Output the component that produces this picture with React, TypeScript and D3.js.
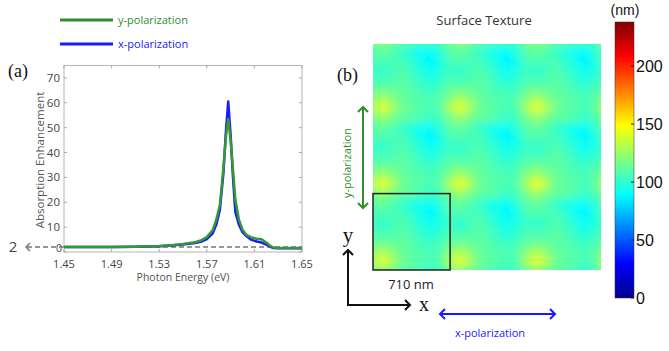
import * as d3 from "d3";

// panel (a): absorption enhancement spectra
const energy = [1.45, 1.47, 1.49, 1.51, 1.53, 1.54, 1.55, 1.56, 1.565, 1.57, 1.575, 1.578, 1.581, 1.584, 1.586, 1.588, 1.59, 1.592, 1.594, 1.597, 1.6, 1.603, 1.607, 1.612, 1.616, 1.62, 1.623, 1.626, 1.63, 1.64, 1.65];
const xPolarization = [2.0, 2.0, 2.0, 2.1, 2.3, 2.6, 3.0, 3.6, 4.1, 5.2, 7.5, 11, 17, 32, 48, 60.5, 47, 30, 16, 11, 8, 6.5, 5, 4.2, 3.8, 3.0, 2.2, 1.6, 1.5, 1.5, 1.5];
const yPolarization = [2.0, 2.0, 2.0, 2.1, 2.4, 2.7, 3.2, 3.9, 4.6, 6.0, 8.8, 13, 19, 34, 46, 53.5, 45, 33, 21, 13, 9, 7, 6, 5.3, 5.1, 3.8, 2.6, 1.8, 1.6, 1.6, 1.6];
const energyTicks = [1.45, 1.49, 1.53, 1.57, 1.61, 1.65];
const enhancementTicks = [0, 10, 20, 30, 40, 50, 60, 70];
const baselineLevel = 2;

// panel (b): one period of the surface height (nm), rows top -> bottom
const textureCell = [
  [110, 112, 108, 101, 95, 91, 91, 99],
  [108, 108, 107, 105, 99, 92, 87, 95],
  [103, 100, 104, 108, 103, 96, 91, 96],
  [106, 104, 107, 110, 106, 100, 96, 100],
  [112, 113, 112, 111, 109, 104, 102, 105],
  [120, 128, 120, 113, 110, 108, 106, 109],
  [130, 145, 130, 115, 111, 109, 105, 110],
  [117, 124, 117, 112, 110, 107, 102, 106],
];
const cellPeriodNm = 710;
const textureSpanNm = 2100;
const heightTicks = [0, 50, 100, 150, 200];
const heightMax = 238;

const jetStops = [0, 0.125, 0.375, 0.625, 0.875, 1];
const jetColors = ["#00008f", "#0000ff", "#00ffff", "#ffff00", "#ff0000", "#800000"];

const GREEN = "#2f8f2f";
const BLUE = "#1a1aff";
const SANS = "'Open Sans', sans-serif";

export default function App() {
  const width = 669;
  const height = 351;

  // spectrum scales
  const x = d3.scaleLinear().domain([1.45, 1.65]).range([64, 302]);
  const y = d3.scaleLinear().domain([0, 75]).range([252, 65.5]);
  const line = d3
    .line<number>()
    .x((_, i) => x(energy[i]))
    .y((d) => y(d));

  // texture scales
  const hx = d3.scaleLinear().domain([0, textureSpanNm]).range([373, 601]);
  const hy = d3.scaleLinear().domain([0, textureSpanNm]).range([270, 44]);
  const color = d3
    .scaleLinear<string>()
    .domain(jetStops.map((s) => s * heightMax))
    .range(jetColors)
    .interpolate(d3.interpolateRgb);
  const cb = d3.scaleLinear().domain([0, heightMax]).range([298, 22]);

  const nCell = textureCell.length;
  const cellNm = cellPeriodNm / nCell;
  const tiles = d3.range(-1, 4);
  const cells: { x: number; y: number; w: number; h: number; c: string }[] = [];
  tiles.forEach((ty) =>
    tiles.forEach((tx) =>
      textureCell.forEach((row, r) =>
        row.forEach((v, i) => {
          const j = nCell - 1 - r;
          const nx = tx * cellPeriodNm + i * cellNm - cellNm / 2;
          const ny = ty * cellPeriodNm + j * cellNm - cellNm / 2;
          cells.push({
            x: hx(nx),
            y: hy(ny + cellNm),
            w: hx(nx + cellNm) - hx(nx) + 0.6,
            h: hy(ny) - hy(ny + cellNm) + 0.6,
            c: color(v),
          });
        })
      )
    )
  );

  const chevron = (tx: number, ty: number, dir: "up" | "down" | "left" | "right", s = 5) => {
    if (dir === "up") return `M${tx - s},${ty + s}L${tx},${ty}L${tx + s},${ty + s}`;
    if (dir === "down") return `M${tx - s},${ty - s}L${tx},${ty}L${tx + s},${ty - s}`;
    if (dir === "left") return `M${tx + s},${ty - s}L${tx},${ty}L${tx + s},${ty + s}`;
    return `M${tx - s},${ty - s}L${tx},${ty}L${tx - s},${ty + s}`;
  };

  const [x0, x1] = x.range();
  const [y0, y1] = y.range();

  return (
    <svg width={width} height={height} style={{ display: "block", position: "absolute", left: 0, top: 0 }}>
      <defs>
        <clipPath id="texClip">
          <rect x={hx(0)} y={hy(textureSpanNm)} width={hx(textureSpanNm) - hx(0)} height={hy(0) - hy(textureSpanNm)} />
        </clipPath>
        <filter id="soft" x="-5%" y="-5%" width="110%" height="110%">
          <feGaussianBlur stdDeviation="4.5" />
        </filter>
        <linearGradient id="jet" x1="0" y1="1" x2="0" y2="0">
          {jetStops.map((s, i) => (
            <stop key={i} offset={s} stopColor={jetColors[i]} />
          ))}
        </linearGradient>
      </defs>
      <rect width={width} height={height} fill="#fff" />

      {/* ---------- panel (a) ---------- */}
      <line x1={60} x2={113} y1={20} y2={20} stroke={GREEN} strokeWidth={3} />
      <text x={118} y={24} fontFamily={SANS} fontSize={11} fill={GREEN}>y-polarization</text>
      <line x1={60} x2={113} y1={44} y2={44} stroke={BLUE} strokeWidth={3} />
      <text x={118} y={48} fontFamily={SANS} fontSize={11} fill={BLUE}>x-polarization</text>
      <text x={8} y={77} fontFamily="'Liberation Serif', serif" fontSize={18} fill="#111">(a)</text>

      <rect x={x0} y={y1} width={x1 - x0} height={y0 - y1} fill="none" stroke="#b5b5b5" />
      {energyTicks.map((t) => (
        <g key={t}>
          <line x1={x(t)} x2={x(t)} y1={y1} y2={y1 + 3} stroke="#aaa" />
          <line x1={x(t)} x2={x(t)} y1={y0} y2={y0 - 3} stroke="#aaa" />
          <text x={x(t)} y={268} textAnchor="middle" fontFamily={SANS} fontSize={11} fill="#444">{t.toFixed(2)}</text>
        </g>
      ))}
      {enhancementTicks.map((t) => (
        <g key={t}>
          <line x1={x1} x2={x1 - 3} y1={y(t)} y2={y(t)} stroke="#aaa" />
          <line x1={x0} x2={x0 + 3} y1={y(t)} y2={y(t)} stroke="#aaa" />
          <text x={t === 0 ? 62 : 60} y={y(t) + (t === 0 ? -0.5 : 4)} textAnchor="end" fontFamily={SANS} fontSize={t === 0 ? 10.5 : 11.5} fill="#444">{t}</text>
        </g>
      ))}
      <text x={183} y={281} textAnchor="middle" fontFamily={SANS} fontSize={10.5} fill="#555">Photon Energy (eV)</text>
      <text transform={`translate(44,160) rotate(-90)`} textAnchor="middle" fontFamily={SANS} fontSize={11.5} fill="#555">
        Absorption Enhancement
      </text>

      <line x1={27} x2={x1} y1={y(baselineLevel)} y2={y(baselineLevel)} stroke="#777" strokeWidth={1.5} strokeDasharray="5,3" />
      <path d={chevron(26, y(baselineLevel), "left", 4)} fill="none" stroke="#777" strokeWidth={1.5} />
      <text x={13} y={y(baselineLevel) + 5} textAnchor="middle" fontFamily={SANS} fontSize={15} fill="#444">2</text>

      <path d={line(xPolarization) ?? ""} fill="none" stroke={BLUE} strokeWidth={2.5} strokeLinejoin="round" />
      <path d={line(yPolarization) ?? ""} fill="none" stroke="#339933" strokeWidth={2.5} strokeLinejoin="round" />

      {/* ---------- panel (b) ---------- */}
      <text x={484} y={25} textAnchor="middle" fontFamily={SANS} fontSize={13} fill="#333">Surface Texture</text>
      <text x={337} y={81} fontFamily="'Liberation Serif', serif" fontSize={18} fill="#111">(b)</text>

      <g clipPath="url(#texClip)">
        <g filter="url(#soft)" shapeRendering="crispEdges">
          {cells.map((c, i) => (
            <rect key={i} x={c.x} y={c.y} width={c.w} height={c.h} fill={c.c} />
          ))}
        </g>
      </g>
      <rect
        x={hx(0)}
        y={hy(cellPeriodNm)}
        width={hx(cellPeriodNm) - hx(0)}
        height={hy(0) - hy(cellPeriodNm)}
        fill="none"
        stroke="#222"
        strokeWidth={1.5}
      />

      {/* colour bar */}
      <rect x={615} y={cb(heightMax)} width={19} height={cb(0) - cb(heightMax)} fill="url(#jet)" stroke="#333" strokeWidth={0.5} />
      {heightTicks.map((t) => (
        <g key={t}>
          <line x1={634} x2={631} y1={cb(t)} y2={cb(t)} stroke="#222" />
          <text x={636} y={cb(t) + 6} fontFamily="'Liberation Sans', sans-serif" fontSize={16} fill="#111">{t}</text>
        </g>
      ))}
      <text x={625} y={15} textAnchor="middle" fontFamily="'Liberation Sans', sans-serif" fontSize={14} fill="#111">(nm)</text>

      {/* polarization arrows */}
      <line x1={363} x2={363} y1={107} y2={208} stroke={GREEN} strokeWidth={2} />
      <path d={chevron(363, 107, "up")} fill="none" stroke={GREEN} strokeWidth={2} />
      <path d={chevron(363, 208, "down")} fill="none" stroke={GREEN} strokeWidth={2} />
      <text transform={`translate(351,163) rotate(-90)`} textAnchor="middle" fontFamily={SANS} fontSize={11} fill={GREEN}>
        y-polarization
      </text>

      <line x1={440} x2={555} y1={314} y2={314} stroke={BLUE} strokeWidth={2} />
      <path d={chevron(440, 314, "left")} fill="none" stroke={BLUE} strokeWidth={2} />
      <path d={chevron(555, 314, "right")} fill="none" stroke={BLUE} strokeWidth={2} />
      <text x={490} y={337} textAnchor="middle" fontFamily={SANS} fontSize={11} fill={BLUE}>x-polarization</text>

      {/* coordinate axes */}
      <path d="M348,250L348,305L410,305" fill="none" stroke="#111" strokeWidth={2} />
      <path d={chevron(348, 250, "up")} fill="none" stroke="#111" strokeWidth={2} />
      <path d={chevron(410, 305, "right")} fill="none" stroke="#111" strokeWidth={2} />
      <text x={348} y={242} textAnchor="middle" fontFamily="'Liberation Serif', serif" fontSize={21} fill="#111">y</text>
      <text x={424} y={311} textAnchor="middle" fontFamily="'Liberation Serif', serif" fontSize={20} fill="#111">x</text>
      <text x={411} y={289} textAnchor="middle" fontFamily={SANS} fontSize={13} fill="#222">710 nm</text>
    </svg>
  );
}
